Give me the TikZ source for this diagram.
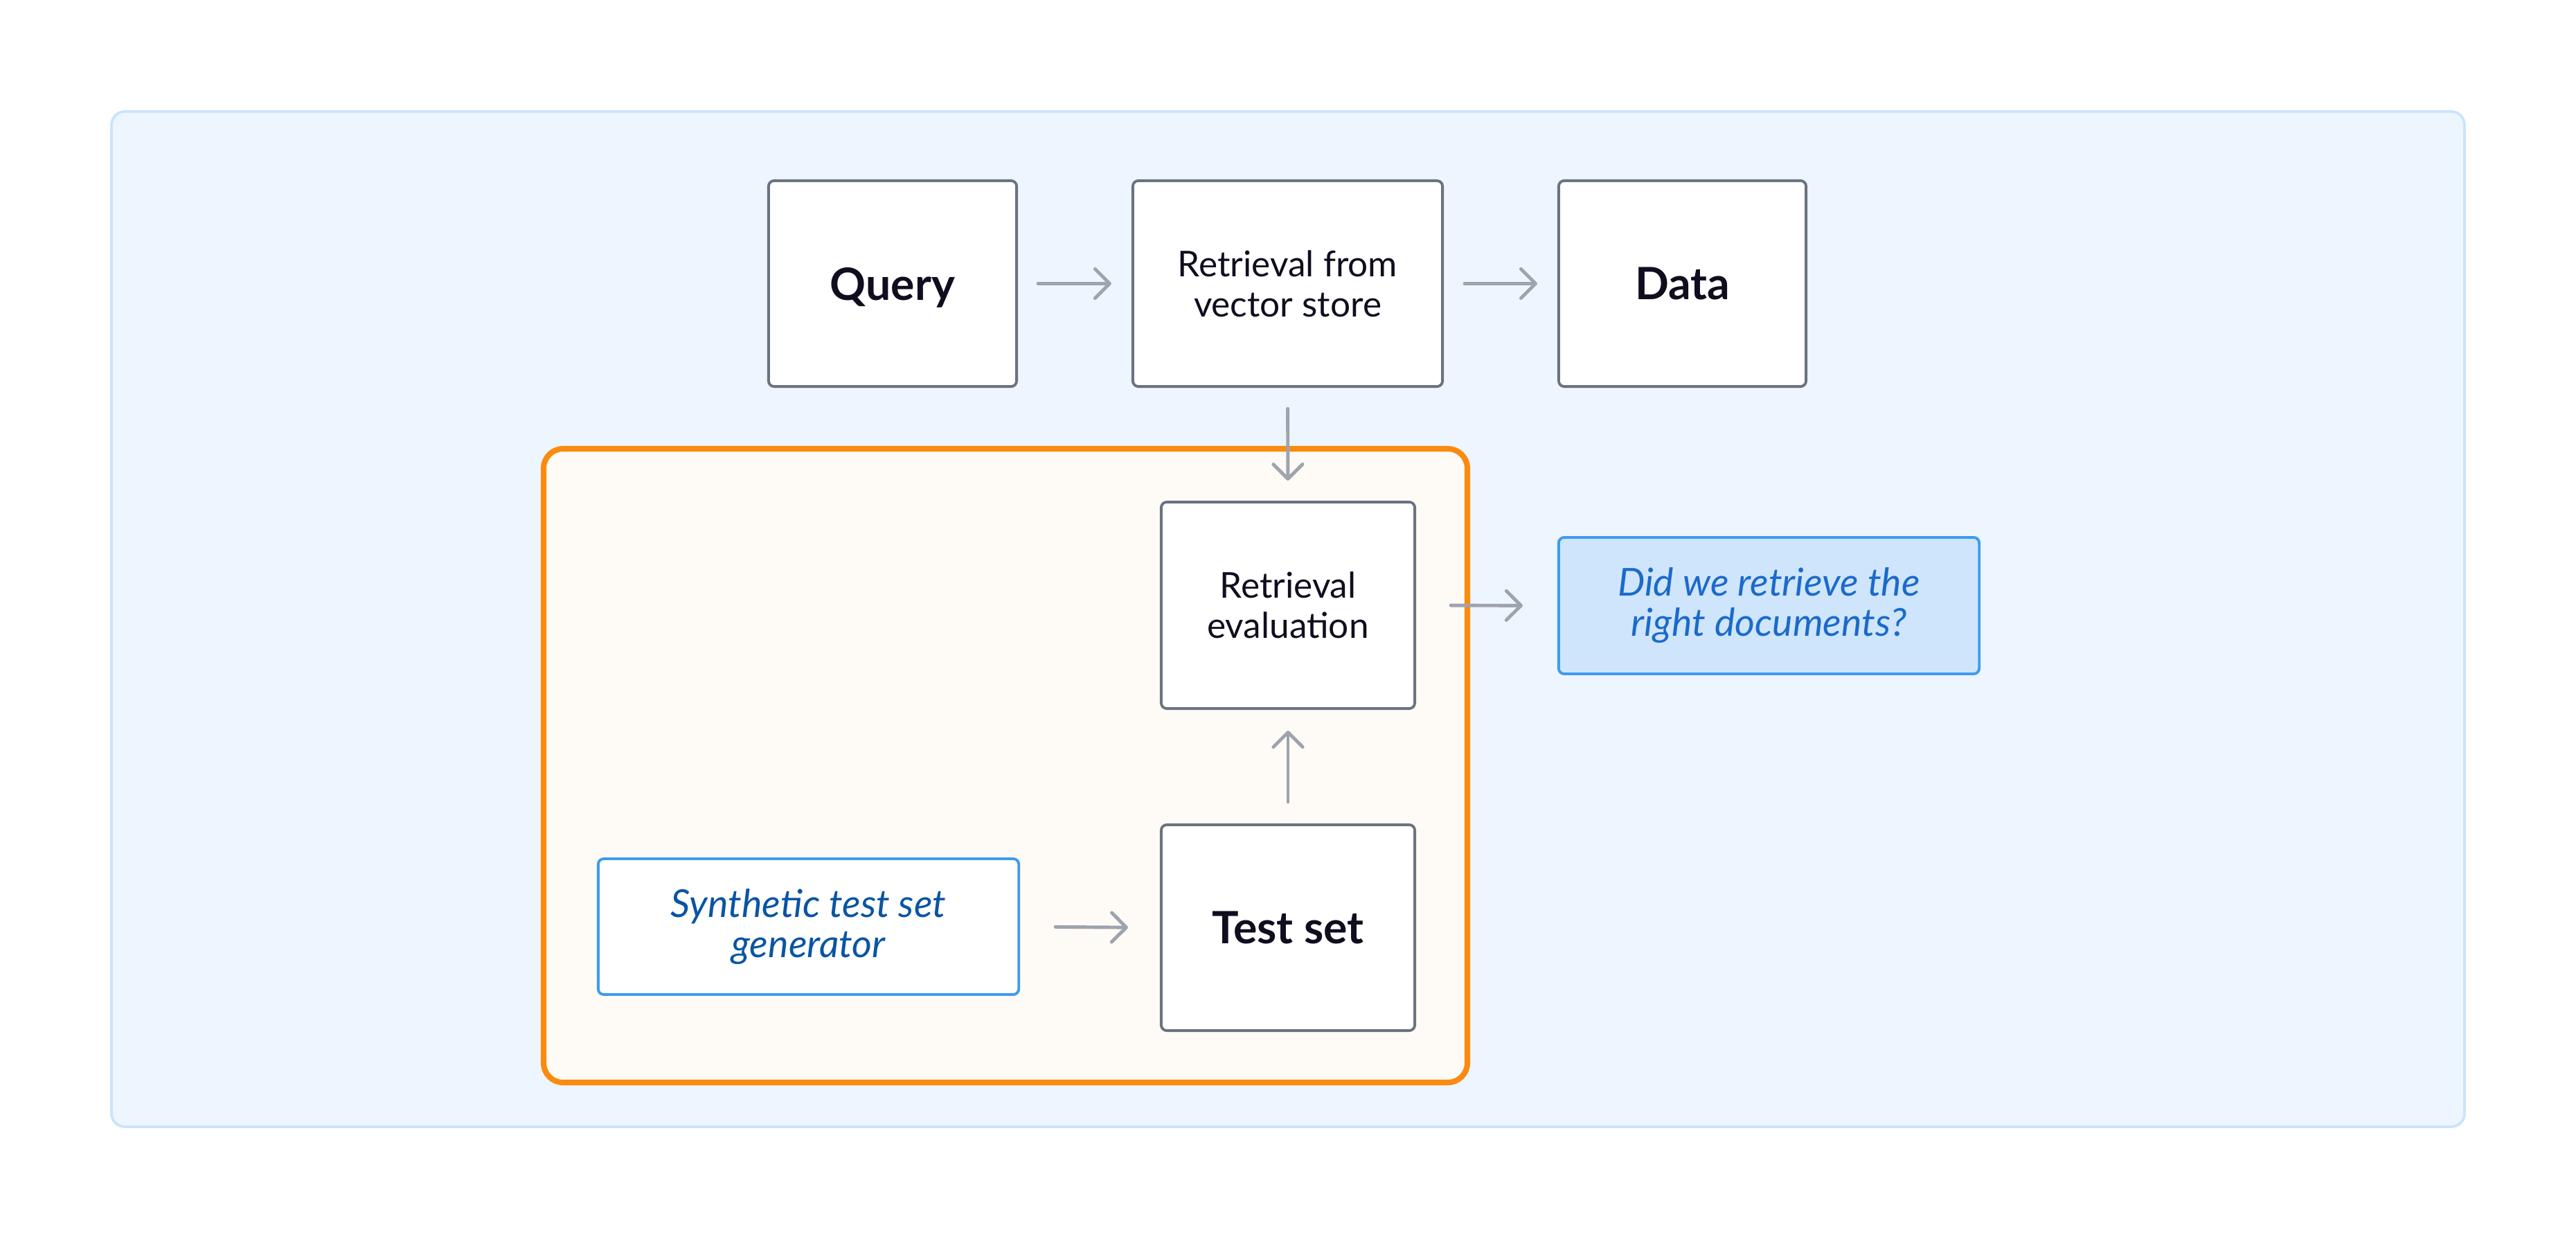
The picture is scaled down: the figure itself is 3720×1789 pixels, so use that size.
\documentclass[tikz,border=0pt]{standalone}
\usepackage{fontspec}
\setmainfont{Lato}
\usetikzlibrary{arrows.meta,calc}
\definecolor{outerfill}{HTML}{EDF5FE}
\definecolor{outerline}{HTML}{CCE4FA}
\definecolor{orangeline}{HTML}{FB8B0F}
\definecolor{orangefill}{HTML}{FEFBF6}
\definecolor{boxline}{HTML}{6B7280}
\definecolor{blueline}{HTML}{3D9BEF}
\definecolor{didfill}{HTML}{CFE5FB}
\definecolor{didtext}{HTML}{1B6ACB}
\definecolor{syntext}{HTML}{0A55A3}
\definecolor{arrowc}{HTML}{9EA3AE}
\definecolor{labeltext}{HTML}{100D1F}
\begin{document}
\begin{tikzpicture}[x=0.01cm,y=-0.01cm,
  graybox/.style={draw=boxline, fill=white, line width=1.1pt, rounded corners=2.3pt,
    align=center, text=labeltext, inner sep=0pt},
  bigtext/.style={font=\fontsize{18.3}{22}\selectfont\bfseries},
  midtext/.style={font=\fontsize{14.6}{16.5}\selectfont},
  bluebox/.style={draw=blueline, line width=1.1pt, rounded corners=2.3pt,
    align=center, inner sep=0pt, font=\fontsize{15.8}{16.5}\selectfont\itshape},
  arr/.style={draw=arrowc, line width=1.4pt, line cap=round,
    -{Straight Barb[length=6pt,width=12pt,line cap=round,line join=round]}}
]
\useasboundingbox (0,0) rectangle (3720,1789);
% outer panel
\draw[fill=outerfill, draw=outerline, line width=1.1pt, rounded corners=5.5pt]
  (161,161) rectangle (3559,1627);
% orange group
\draw[fill=orangefill, draw=orangeline, line width=2.3pt, rounded corners=8pt]
  (785,648) rectangle (2119,1563);

\node[graybox, bigtext, text depth=0pt, minimum width=3.58cm, minimum height=2.97cm] (query) at (1289,409.5) {Query};
\node[graybox, midtext, minimum width=4.47cm, minimum height=2.97cm] (retr) at (1859.5,409.5) {Retrieval from\\vector store};
\node[graybox, bigtext, minimum width=3.57cm, minimum height=2.97cm] (data) at (2429.5,409.5) {Data};
\node[graybox, midtext, minimum width=3.66cm, minimum height=2.98cm] (eval) at (1860,874) {Retrieval\\evaluation};
\node[graybox, bigtext, minimum width=3.66cm, minimum height=2.97cm] (test) at (1860,1339.5) {Test set};
\node[bluebox, fill=white, text=syntext, minimum width=6.07cm, minimum height=1.96cm] (synth) at (1167.5,1338) {Synthetic test set\\generator};
\node[bluebox, fill=didfill, text=didtext, minimum width=6.07cm, minimum height=1.97cm] (did) at (2554.5,874.5) {Did we retrieve the\\right documents?};

\draw[arr, shorten <=0.29cm, shorten >=0.29cm] (query.east) -- (retr.west);
\draw[arr, shorten <=0.30cm, shorten >=0.29cm] (retr.east) -- (data.west);
\draw[arr, shorten <=0.30cm, shorten >=0.29cm] (retr.south) -- (eval.north);
\draw[arr, shorten <=0.31cm, shorten >=0.30cm] (test.north) -- (eval.south);
\draw[arr, shorten <=0.51cm, shorten >=0.46cm] (synth.east) -- (test.west);
\draw[arr, shorten <=0.50cm, shorten >=0.50cm] (eval.east) -- (did.west);
\end{tikzpicture}
\end{document}
